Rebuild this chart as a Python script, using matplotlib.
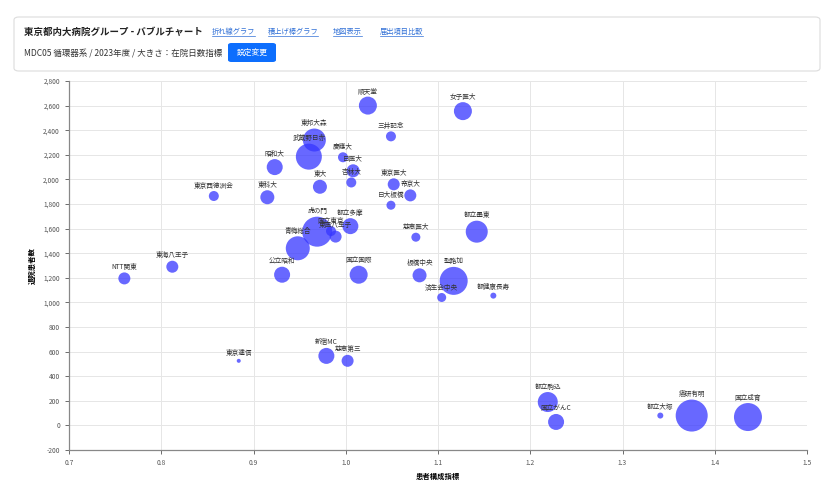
import matplotlib
matplotlib.use('Agg')
from matplotlib import pyplot as plt
from matplotlib.patches import FancyBboxPatch
from matplotlib.ticker import FuncFormatter, MultipleLocator

plt.rcParams['font.family'] = ['Noto Sans CJK JP', 'DejaVu Sans']
plt.rcParams['axes.unicode_minus'] = False

# データ
hospitals = ['順天堂', '女子医大', '三井記念', '東邦大森', '武蔵野日赤', '慶應大', '昭和大',
             '日医大', '東大', '杏林大', '東京医大', '帝京大', '日大板橋', '東京西徳洲会',
             '東科大', '虎の門', '国立東京', '東医八王子', '都立多摩', '青梅総合', '慈恵医大',
             '都立墨東', '東海八王子', 'NTT関東', '公立昭和', '国立国際', '板橋中央', '聖路加',
             '済生会中央', '都健康長寿', '東京逓信', '新宿MC', '慈恵第三', '都立駒込',
             '国立がんC', '都立大塚', '癌研有明', '国立成育']
case_mix = [1.024, 1.127, 1.049, 0.966, 0.960, 0.997, 0.923,
            1.008, 0.972, 1.006, 1.052, 1.070, 1.049, 0.857,
            0.915, 0.969, 0.984, 0.989, 1.005, 0.948, 1.076,
            1.142, 0.812, 0.760, 0.931, 1.014, 1.080, 1.117,
            1.104, 1.160, 0.884, 0.979, 1.002, 1.219,
            1.228, 1.341, 1.375, 1.436]
discharges = [2600, 2555, 2350, 2320, 2185, 2180, 2100,
              2070, 1940, 1975, 1960, 1870, 1790, 1865,
              1855, 1575, 1580, 1535, 1620, 1440, 1530,
              1575, 1290, 1195, 1225, 1225, 1220, 1175,
              1040, 1055, 525, 565, 525, 190,
              28, 80, 80, 68]
stay_index = [90, 90, 50, 115, 130, 50, 80,
              65, 70, 50, 60, 60, 45, 50,
              70, 150, 50, 60, 80, 120, 45,
              110, 60, 60, 80, 90, 70, 140,
              45, 30, 20, 80, 60, 100,
              80, 30, 160, 140]

x_ticks = [0.7, 0.8, 0.9, 1.0, 1.1, 1.2, 1.3, 1.4, 1.5]

W, H = 826, 490
fig = plt.figure(figsize=(W / 100, H / 100), dpi=100)

# ヘッダーカード
card = FancyBboxPatch((14 / W, 1 - 71 / H), 806 / W, 54 / H,
                      boxstyle='round,pad=0,rounding_size=0.006',
                      transform=fig.transFigure, facecolor='white',
                      edgecolor='#dcdcdc', linewidth=0.8)
fig.patches.append(card)
fig.text(24 / W, 1 - 32 / H, '東京都内大病院グループ - バブルチャート', fontsize=6.8,
         fontweight='bold', color='#222222', va='center')
link_x = [212, 268, 333, 380]
links = ['折れ線グラフ', '積上げ棒グラフ', '地図表示', '届出項目比較']
for lx, name in zip(link_x, links):
    fig.text(lx / W, 1 - 32 / H, name, fontsize=5.2, color='#2f6fd6', va='center')
    # 下線
    fig.add_artist(plt.Line2D([lx / W, (lx + len(name) * 7.2) / W],
                              [1 - 36.5 / H, 1 - 36.5 / H], color='#2f6fd6', linewidth=0.5))
fig.text(24 / W, 1 - 53 / H, 'MDC05 循環器系 / 2023年度 / 大きさ：在院日数指標',
         fontsize=6.1, color='#333333', va='center')
btn = FancyBboxPatch((228 / W, 1 - 62 / H), 48 / W, 19 / H,
                     boxstyle='round,pad=0,rounding_size=0.004',
                     transform=fig.transFigure, facecolor='#0d6efd', edgecolor='none')
fig.patches.append(btn)
fig.text(252 / W, 1 - 52.5 / H, '設定変更', fontsize=5.6, color='white',
         ha='center', va='center')

# バブルチャート
ax = fig.add_axes([69 / W, 1 - 450 / H, 738 / W, 369 / H])
ax.set_xlim(0.7, 1.5)
ax.set_ylim(-200, 2800)
ax.set_xticks(x_ticks)
ax.xaxis.set_major_formatter(FuncFormatter(lambda v, p: f'{v:.1f}'))
ax.yaxis.set_major_locator(MultipleLocator(200))
ax.yaxis.set_major_formatter(FuncFormatter(lambda v, p: f'{int(v):,}'))
ax.grid(True, color='#e6e6e6', linewidth=0.7)
ax.set_axisbelow(True)
for s in ['top', 'right']:
    ax.spines[s].set_visible(False)
for s in ['left', 'bottom']:
    ax.spines[s].set_color('#888888')
    ax.spines[s].set_linewidth(0.9)
ax.tick_params(labelsize=4.8, colors='#555555', length=3, width=0.6)

px_to_pt = 0.72
radii = [v / 10 for v in stay_index]
sizes = [(2 * r * px_to_pt) ** 2 for r in radii]
ax.scatter(case_mix, discharges, s=sizes, color=(54 / 255, 54 / 255, 1.0, 0.75),
           edgecolors='none', zorder=3)
for name, x, y, r in zip(hospitals, case_mix, discharges, radii):
    ax.annotate(name, (x, y), xytext=(0, (r + 1.5) * px_to_pt), textcoords='offset points',
                ha='center', va='bottom', fontsize=4.8, color='#333333', zorder=4)

ax.set_xlabel('患者構成指標', fontsize=5.3, fontweight='bold', labelpad=4)
ax.set_ylabel('退院患者数', fontsize=5.3, fontweight='bold', labelpad=5)

plt.savefig('out.png', dpi=100)
